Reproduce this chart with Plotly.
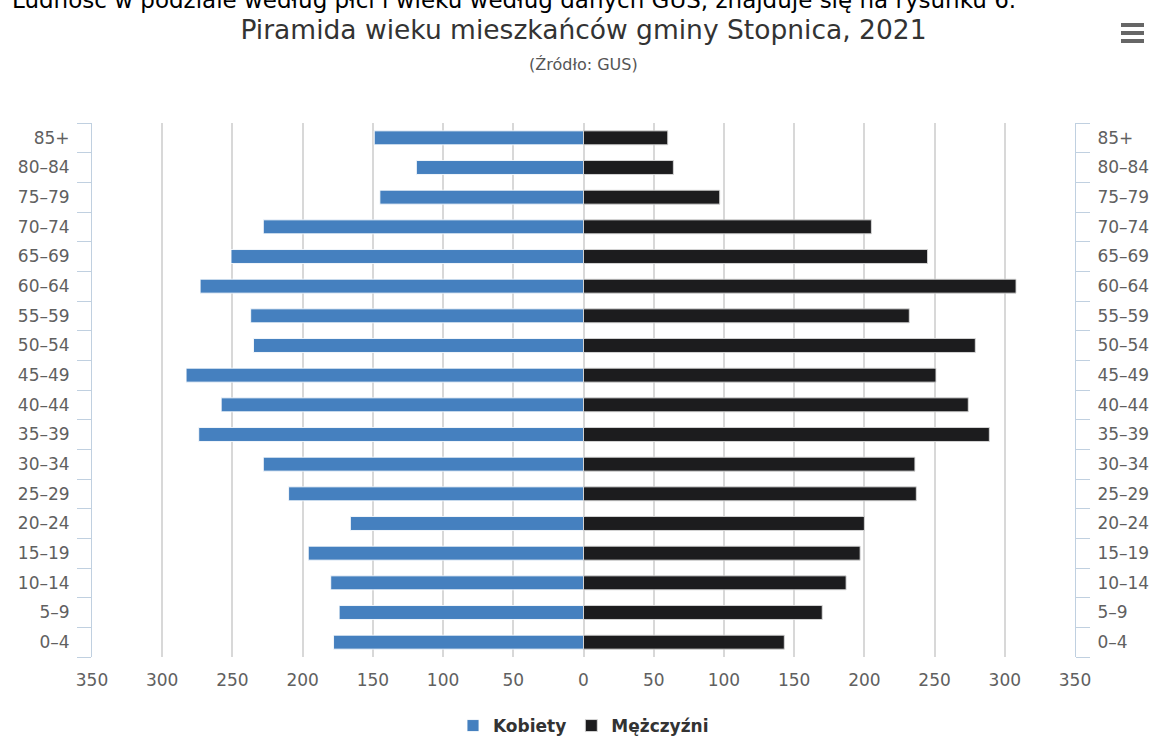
import plotly.graph_objects as go

categories = ["0–4", "5–9", "10–14", "15–19", "20–24", "25–29", "30–34", "35–39",
              "40–44", "45–49", "50–54", "55–59", "60–64", "65–69", "70–74",
              "75–79", "80–84", "85+"]
women = [178, 174, 180, 196, 166, 210, 228, 274, 258, 283, 235, 237, 273, 251, 228, 145, 119, 149]
men = [143, 170, 187, 197, 200, 237, 236, 289, 274, 251, 279, 232, 308, 245, 205, 97, 64, 60]
tick_vals = [-350, -300, -250, -200, -150, -100, -50, 0, 50, 100, 150, 200, 250, 300, 350]
tick_text = [str(abs(v)) for v in tick_vals]

FONT = "DejaVu Sans"
AXIS_COL = "#C0D0E0"

fig = go.Figure()
fig.add_trace(go.Bar(
    y=categories, x=[-v for v in women], orientation="h", name="Kobiety",
    marker=dict(color="#4580bf", line=dict(color="rgba(255,255,255,0.85)", width=1)),
    customdata=women, hovertemplate="%{y}: %{customdata}<extra>Kobiety</extra>",
))
fig.add_trace(go.Bar(
    y=categories, x=men, orientation="h", name="Mężczyźni",
    marker=dict(color="#1c1c1e", line=dict(color="rgba(220,220,220,0.9)", width=1)),
    hovertemplate="%{y}: %{x}<extra>Mężczyźni</extra>",
))
# invisible trace to show the mirrored right axis
fig.add_trace(go.Scatter(
    y=categories, x=[0] * len(categories), yaxis="y2", mode="markers",
    marker=dict(opacity=0, size=1), showlegend=False, hoverinfo="skip",
))

yaxis_common = dict(
    type="category", categoryorder="array", categoryarray=categories,
    range=[-0.5, len(categories) - 0.5],
    showline=True, linecolor=AXIS_COL, linewidth=1,
    ticks="outside", tickson="boundaries", ticklen=14, tickcolor=AXIS_COL,
    ticklabelstandoff=18,
    showgrid=False, zeroline=False, automargin=False,
    tickfont=dict(family=FONT, size=17, color="#606060"),
    fixedrange=True,
)

fig.update_layout(
    width=1152, height=737,
    margin=dict(l=92, r=77, t=123, b=80),
    paper_bgcolor="white", plot_bgcolor="white",
    barmode="relative", bargap=0.53,
    title=dict(text="Piramida wieku mieszkańców gminy Stopnica, 2021",
               x=0.5, xref="paper", y=1 - 30 / 737, yanchor="middle",
               font=dict(family=FONT, size=26.5, color="#333333")),
    xaxis=dict(range=[-350, 350], tickvals=tick_vals, ticktext=tick_text,
               showgrid=True, gridcolor="#D8D8D8", gridwidth=1.5, zeroline=False,
               showline=False, ticks="outside", ticklen=8, tickcolor="rgba(0,0,0,0)",
               automargin=False,
               tickfont=dict(family=FONT, size=17, color="#606060"), fixedrange=True),
    yaxis=dict(**yaxis_common, side="left"),
    yaxis2=dict(**yaxis_common, side="right", overlaying="y"),
    legend=dict(orientation="h", x=0.5, xanchor="center", xref="paper",
                yref="container", y=1 - 726 / 737, yanchor="middle",
                font=dict(family=FONT, size=17, color="#333333", weight="bold"),
                itemwidth=30, traceorder="normal"),
    showlegend=True,
    annotations=[
        dict(text="(Źródło: GUS)", xref="paper", yref="paper", x=0.5, y=(657 - 65) / 534,
             xanchor="center", yanchor="middle", showarrow=False,
             font=dict(family=FONT, size=16, color="#555555")),
        dict(text="Ludność w podziale według płci i wieku według danych GUS, znajduje się na rysunku 6.",
             xref="paper", yref="paper", x=(10 - 92) / 983, y=(657 - 15) / 534,
             xanchor="left", yanchor="bottom", showarrow=False,
             font=dict(family=FONT, size=23, color="#000000")),
    ],
    shapes=[
        dict(type="line", xref="paper", yref="paper",
             x0=(1121 - 92) / 983, x1=(1144 - 92) / 983,
             y0=(657 - py) / 534, y1=(657 - py) / 534,
             line=dict(color="#666666", width=4))
        for py in (25, 33, 41)
    ],
)

fig.write_html("out.html")
